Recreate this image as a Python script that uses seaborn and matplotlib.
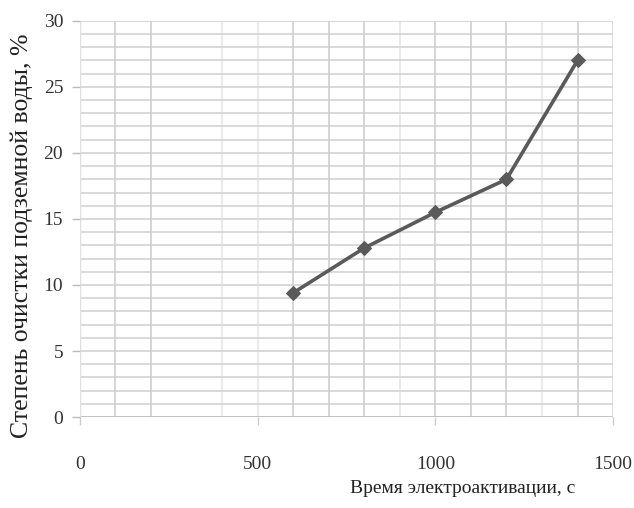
import numpy as np
import pandas as pd
import matplotlib
matplotlib.use('Agg')
import matplotlib.pyplot as plt
import seaborn as sns

# data
time_s = [600, 800, 1000, 1200, 1400]
purification = [9.4, 12.8, 15.5, 18.0, 27.0]

x_ticks = [0, 500, 1000, 1500]
y_ticks = [0, 5, 10, 15, 20, 25, 30]

df = pd.DataFrame({'time': time_s, 'degree': purification})

sns.set_style('white')
plt.rcParams['font.family'] = ['Liberation Serif', 'DejaVu Serif']

fig = plt.figure(figsize=(6.34, 5.08), dpi=100)
ax = fig.add_axes([0.126, 0.179, 0.841, 0.780])

# excel-like grid, every 100 s and every 1 %
for xv in range(100, 1500, 100):
    if xv == 300:
        continue
    light = xv in (400, 500, 900, 1300)
    ax.axvline(xv, color='#e4e4e4' if light else '#cccccc', lw=1.1, zorder=0)
for yv in range(1, 30):
    ax.axhline(yv, color='#cfcfcf', lw=1.1, zorder=0)
ax.axhline(0, color='#b8b8b8', lw=1.2, zorder=0)
ax.axhline(30, color='#d0d0d0', lw=1.1, zorder=0)
ax.axvline(1500, color='#d0d0d0', lw=1.1, zorder=0)
ax.axvline(0, color='#e0e0e0', lw=1.0, zorder=0)

sns.lineplot(data=df, x='time', y='degree', ax=ax, color='#5a5a5a',
             linewidth=2.6, marker='D', markersize=7, markeredgecolor='#5a5a5a',
             zorder=3)

ax.set_xlim(0, 1500)
ax.set_ylim(0, 30)
ax.set_xticks(x_ticks)
ax.set_yticks(y_ticks)
for s in ax.spines.values():
    s.set_visible(False)
ax.tick_params(axis='x', length=6, width=1, color='#cccccc', pad=22,
               labelsize=14, labelcolor='#333333', direction='out', bottom=True)
ax.tick_params(axis='y', length=6, width=1, color='#bbbbbb', pad=6,
               labelsize=14, labelcolor='#333333', direction='out', left=True)

ax.set_xlabel('')
ax.set_ylabel('')
fig.text(0.035, 0.535, 'Степень очистки подземной воды, %', fontsize=18.5,
         color='#222222', rotation=90, ha='center', va='center')
fig.text(0.73, 0.022, 'Время электроактивации, с', fontsize=14, color='#222222',
         ha='center', va='bottom')

plt.savefig('out.png', dpi=100)
